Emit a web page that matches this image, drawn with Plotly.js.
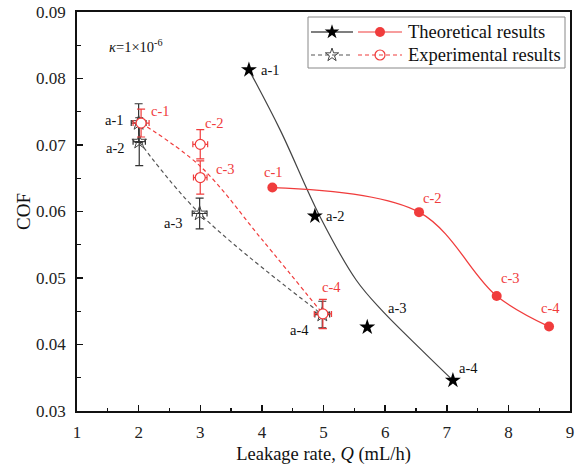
<!DOCTYPE html>
<html>
<head>
<meta charset="utf-8">
<script src="https://cdn.plot.ly/plotly-3.0.1.min.js"></script>
<style>html,body{margin:0;padding:0;background:#fff;}#chart{width:575px;height:470px;}</style>
</head>
<body>
<div id="chart"></div>
<script>
// ---- data ----
var theoALabels = ['a-1','a-2','a-3','a-4'];
var theoAx = [3.79, 4.86, 5.71, 7.10];
var theoAy = [0.0813, 0.0593, 0.0426, 0.0346];
// fitted theoretical curve (black, solid)
var curveAx = [3.79, 4.30, 4.94, 5.53, 5.94, 6.61, 7.10];
var curveAy = [0.0813, 0.0722, 0.0593, 0.0497, 0.0452, 0.0390, 0.0346];

var theoCLabels = ['c-1','c-2','c-3','c-4'];
var theoCx = [4.17, 6.55, 7.81, 8.66];
var theoCy = [0.0636, 0.0599, 0.0473, 0.0427];

var expALabels = ['a-1','a-2','a-3','a-4'];
var expAx = [2.00, 2.01, 2.99, 4.98];
var expAy = [0.0733, 0.0705, 0.0597, 0.0445];
var expAerrY = [0.0029, 0.0036, 0.0023, 0.0020];
var expAerrX = [0.12, 0.10, 0.12, 0.12];
// dashed trend (black)
var expALineX = [2.01, 2.99, 4.98];
var expALineY = [0.0705, 0.0597, 0.0445];

var expCLabels = ['c-1','c-2','c-3','c-4'];
var expCx = [2.04, 3.00, 3.00, 4.99];
var expCy = [0.0733, 0.0701, 0.0651, 0.0446];
var expCerrY = [0.0021, 0.0022, 0.0025, 0.0022];
var expCerrX = [0.13, 0.12, 0.11, 0.14];
// dashed trend (red)
var expCLineX = [2.04, 3.00, 4.00, 4.99];
var expCLineY = [0.0733, 0.0668, 0.0558, 0.0446];

var xTicks = [1,2,3,4,5,6,7,8,9];
var yTicks = [0.03,0.04,0.05,0.06,0.07,0.08,0.09];

// ---- style ----
var RED = '#f03c3c';
var SERIF = '"Liberation Serif", "Times New Roman", Times, serif';

var traces = [
  {x: expALineX, y: expALineY, mode:'lines', line:{color:'#555', width:1.2, dash:'4px,3px', shape:'spline'}, hoverinfo:'skip', showlegend:false},
  {x: expCLineX, y: expCLineY, mode:'lines', line:{color:RED, width:1.2, dash:'4px,3px', shape:'spline'}, hoverinfo:'skip', showlegend:false},
  {x: expAx, y: expAy, mode:'markers', marker:{symbol:'star-open', size:11, color:'#444', line:{width:1}},
   error_y:{type:'data', array:expAerrY, visible:true, color:'#333', thickness:1.2, width:4},
   error_x:{type:'data', array:expAerrX, visible:true, color:'#333', thickness:1.2, width:3},
   showlegend:false},
  {x: expCx, y: expCy, mode:'markers', marker:{symbol:'circle', size:10, color:'#fff', line:{color:RED, width:1.2}},
   error_y:{type:'data', array:expCerrY, visible:true, color:RED, thickness:1.2, width:4},
   error_x:{type:'data', array:expCerrX, visible:true, color:RED, thickness:1.2, width:3},
   showlegend:false},
  {x: curveAx, y: curveAy, mode:'lines', line:{color:'#444', width:1.2, shape:'spline'}, hoverinfo:'skip', showlegend:false},
  {x: theoCx, y: theoCy, mode:'lines+markers', line:{color:RED, width:1.3, shape:'spline'}, marker:{symbol:'circle', size:10, color:RED}, showlegend:false},
  {x: theoAx, y: theoAy, mode:'markers', marker:{symbol:'star', size:12, color:'#000'}, showlegend:false}
];

// legend samples on a pixel-mapped overlay axis
var legX = [332, 380, 332, 380];
var legY = [32, 32, 55, 55];
traces.push({x:[legX[0]], y:[legY[0]], xaxis:'x2', yaxis:'y2', mode:'markers', marker:{symbol:'star', size:11, color:'#000'}, showlegend:false, hoverinfo:'skip'});
traces.push({x:[legX[1]], y:[legY[1]], xaxis:'x2', yaxis:'y2', mode:'markers', marker:{symbol:'circle', size:10, color:RED}, showlegend:false, hoverinfo:'skip'});
traces.push({x:[legX[2]], y:[legY[2]], xaxis:'x2', yaxis:'y2', mode:'markers', marker:{symbol:'star-open', size:10, color:'#444', line:{width:1}}, showlegend:false, hoverinfo:'skip'});
traces.push({x:[legX[3]], y:[legY[3]], xaxis:'x2', yaxis:'y2', mode:'markers', marker:{symbol:'circle', size:10, color:'#fff', line:{color:RED, width:1.2}}, showlegend:false, hoverinfo:'skip'});

var shapes = [
  {type:'rect', xref:'x2', yref:'y2', x0:308, x1:565, y0:17, y1:68, line:{color:'#888', width:1}, fillcolor:'rgba(0,0,0,0)'},
  {type:'line', xref:'x2', yref:'y2', x0:311, x1:353, y0:32, y1:32, line:{color:'#000', width:1.2}},
  {type:'line', xref:'x2', yref:'y2', x0:358, x1:402, y0:32, y1:32, line:{color:RED, width:1.2}},
  {type:'line', xref:'x2', yref:'y2', x0:311, x1:353, y0:55, y1:55, line:{color:'#555', width:1.2, dash:'4px,3px'}},
  {type:'line', xref:'x2', yref:'y2', x0:358, x1:402, y0:55, y1:55, line:{color:RED, width:1.2, dash:'4px,3px'}}
];

var annotations = [
  {xref:'x2', yref:'y2', x:406, y:32, xanchor:'left', yanchor:'middle', text:'Theoretical results', showarrow:false, font:{family:SERIF, size:18.5, color:'#111'}},
  {xref:'x2', yref:'y2', x:406, y:55, xanchor:'left', yanchor:'middle', text:'Experimental results', showarrow:false, font:{family:SERIF, size:18.5, color:'#111'}},
  {xref:'x2', yref:'y2', x:107, y:46, xanchor:'left', yanchor:'middle', text:'<i>κ</i>=1×10<sup>-6</sup>', showarrow:false, font:{family:SERIF, size:14.5, color:'#111'}}
];

function addLabels(lbls, xs, ys, dx, dy, color) {
  for (var i = 0; i < lbls.length; i++) {
    annotations.push({x: xs[i], y: ys[i], text: lbls[i], showarrow:false, xanchor:'center', yanchor:'middle',
      xshift: dx[i], yshift: dy[i], font:{family:SERIF, size:14.5, color: color}});
  }
}
addLabels(theoALabels, theoAx, theoAy, [22,21,30,16], [0,0,19,12], '#111');
addLabels(theoCLabels, theoCx, theoCy, [1,13,14,1], [16,14,18,19], RED);
addLabels(expALabels, expAx, expAy, [-24,-24,-26,-23], [3,-6,-9,-15], '#111');
addLabels(expCLabels, expCx, expCy, [19,14,25,9], [12,21,9,27], RED);

var layout = {
  width:575, height:470,
  margin:{l:77, r:5, t:12, b:59},
  paper_bgcolor:'#fff', plot_bgcolor:'#fff',
  showlegend:false,
  font:{family:SERIF, color:'#111'},
  xaxis:{range:[1,9], tickvals:xTicks, ticktext:xTicks.map(String), ticks:'inside', ticklen:6, tickwidth:1.5, tickcolor:'#111',
    showline:true, linecolor:'#111', linewidth:1.8, mirror:true, showgrid:false, zeroline:false,
    minor:{dtick:0.5, ticks:'inside', ticklen:3.5, tickwidth:1.2, tickcolor:'#111', showgrid:false},
    tickfont:{family:SERIF, size:17, color:'#222'}, ticklabelstandoff:5,
    title:{text:'Leakage rate, <i>Q</i> (mL/h)', font:{family:SERIF, size:18.5, color:'#111'}, standoff:6}},
  yaxis:{range:[0.03,0.09], tickvals:yTicks, ticktext:yTicks.map(function(v){return v.toFixed(2);}), ticks:'inside', ticklen:6, tickwidth:1.5, tickcolor:'#111',
    showline:true, linecolor:'#111', linewidth:1.8, mirror:true, showgrid:false, zeroline:false,
    minor:{dtick:0.005, ticks:'inside', ticklen:3.5, tickwidth:1.2, tickcolor:'#111', showgrid:false},
    tickfont:{family:SERIF, size:17, color:'#222'}, ticklabelstandoff:6,
    title:{text:'COF', font:{family:SERIF, size:19, color:'#111'}, standoff:0}},
  xaxis2:{overlaying:'x', anchor:'y2', range:[77,570], visible:false, fixedrange:true},
  yaxis2:{overlaying:'y', anchor:'x2', range:[411,12], visible:false, fixedrange:true},
  shapes:shapes,
  annotations:annotations
};

Plotly.newPlot('chart', traces, layout, {staticPlot:true, displayModeBar:false});
</script>
</body>
</html>
